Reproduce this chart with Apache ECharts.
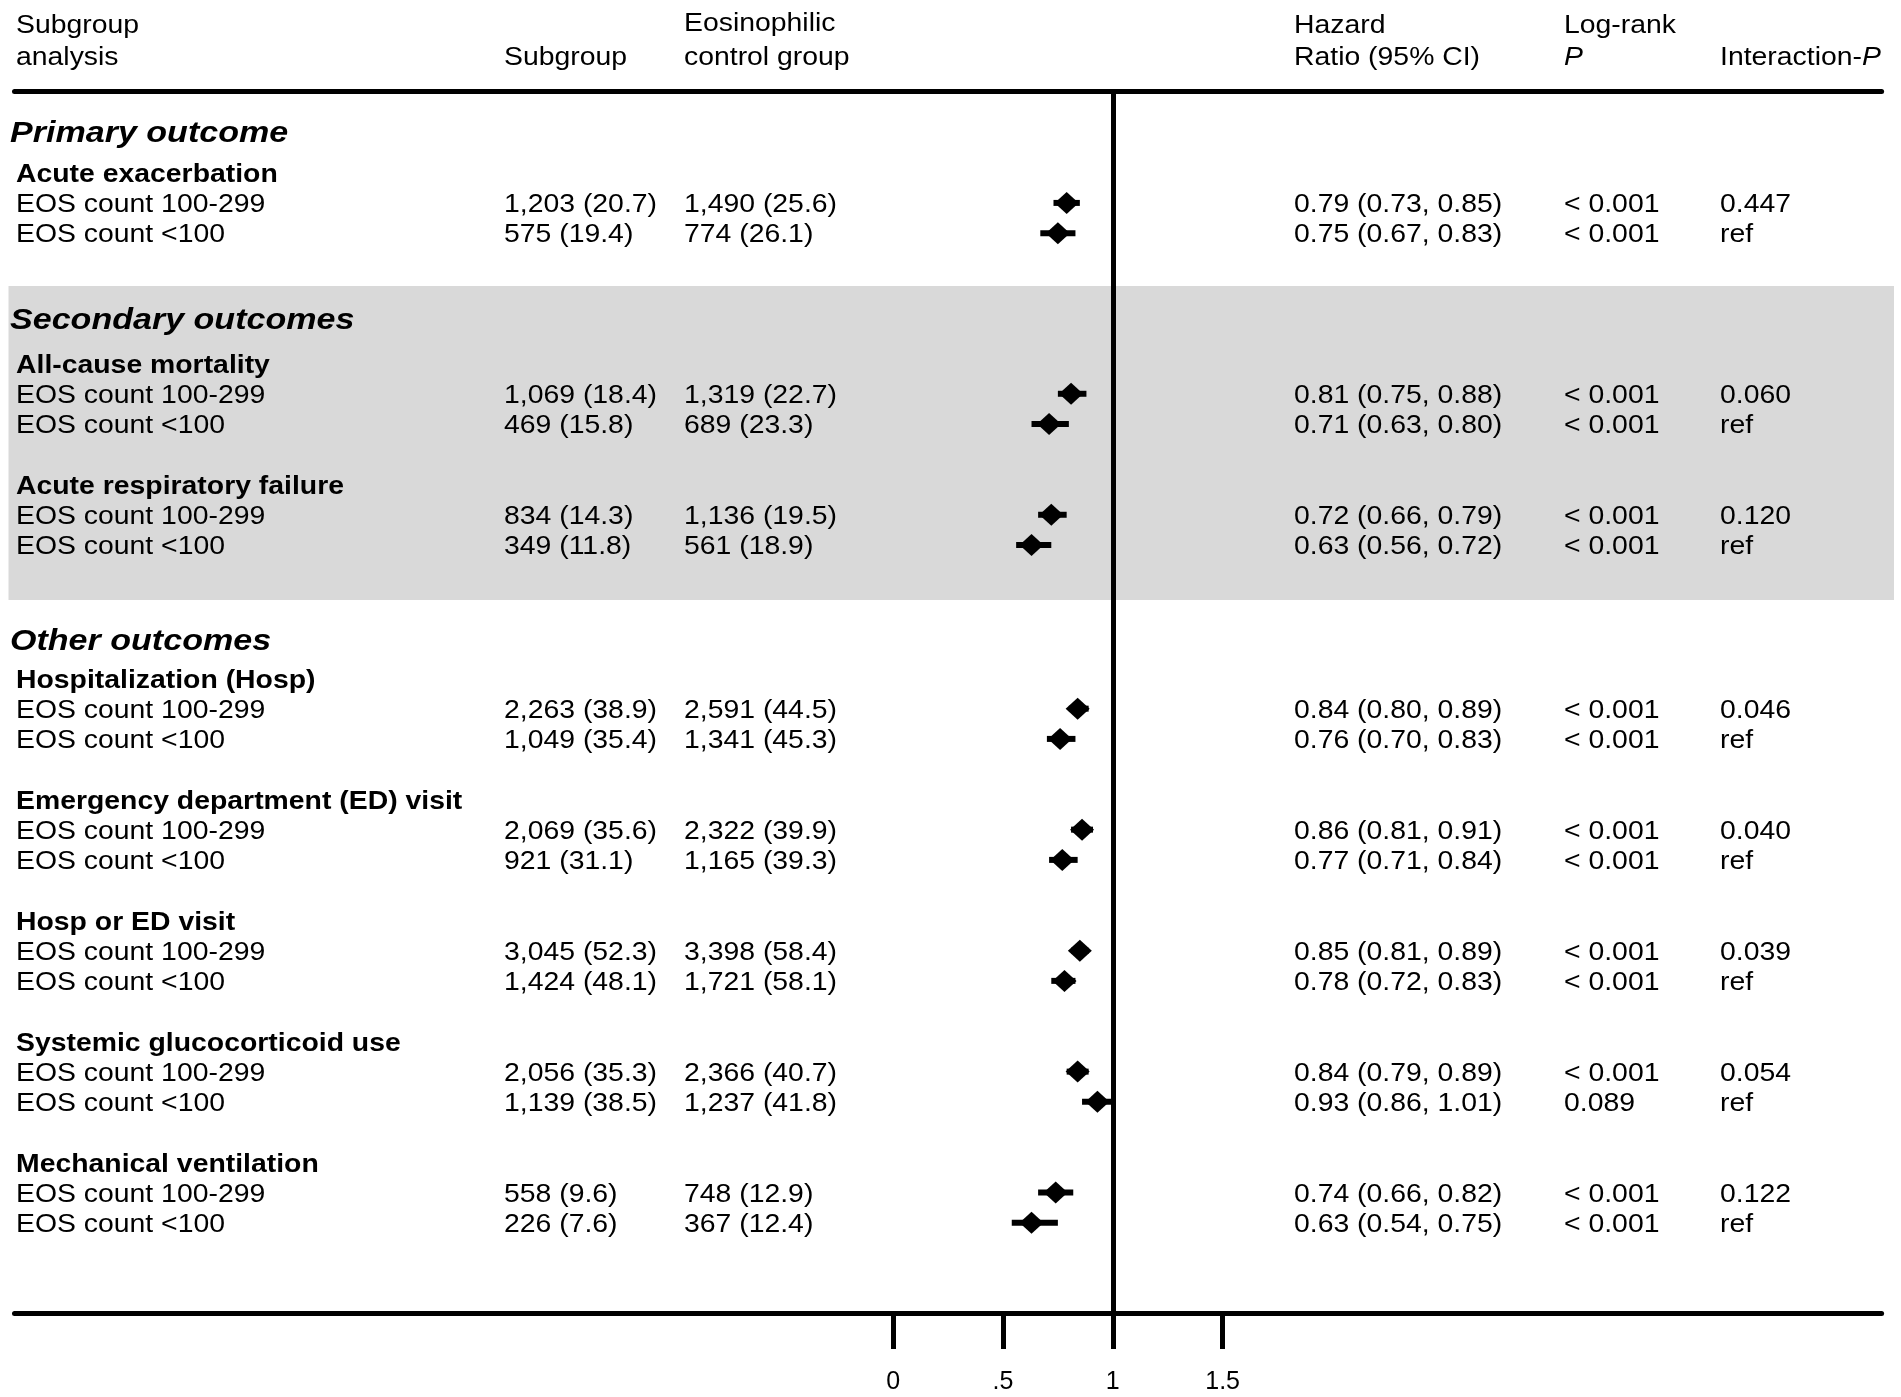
<!DOCTYPE html>
<html><head><meta charset="utf-8">
<script src="https://cdn.jsdelivr.net/npm/echarts@6/dist/echarts.min.js"></script>
<style>html,body{margin:0;padding:0;background:#fff}#c{width:1901px;height:1397px}</style>
</head><body><div id="c"></div><script>
// ---------------- DATA ----------------
const sectionTitles = ['Primary outcome', 'Secondary outcomes', 'Other outcomes'];
const sectionShaded = [false, true, false];
const outcomeNames = ['Acute exacerbation', 'All-cause mortality', 'Acute respiratory failure',
  'Hospitalization (Hosp)', 'Emergency department (ED) visit', 'Hosp or ED visit',
  'Systemic glucocorticoid use', 'Mechanical ventilation'];
const outcomeSection = [0, 1, 1, 2, 2, 2, 2, 2];
const subgroupLabels = ['EOS count 100-299', 'EOS count <100'];
// rows: outcome x subgroup, in order
const subgroupEvents = ['1,203 (20.7)', '575 (19.4)', '1,069 (18.4)', '469 (15.8)', '834 (14.3)', '349 (11.8)',
  '2,263 (38.9)', '1,049 (35.4)', '2,069 (35.6)', '921 (31.1)', '3,045 (52.3)', '1,424 (48.1)',
  '2,056 (35.3)', '1,139 (38.5)', '558 (9.6)', '226 (7.6)'];
const controlEvents = ['1,490 (25.6)', '774 (26.1)', '1,319 (22.7)', '689 (23.3)', '1,136 (19.5)', '561 (18.9)',
  '2,591 (44.5)', '1,341 (45.3)', '2,322 (39.9)', '1,165 (39.3)', '3,398 (58.4)', '1,721 (58.1)',
  '2,366 (40.7)', '1,237 (41.8)', '748 (12.9)', '367 (12.4)'];
const hazardRatio = [0.79, 0.75, 0.81, 0.71, 0.72, 0.63, 0.84, 0.76, 0.86, 0.77, 0.85, 0.78, 0.84, 0.93, 0.74, 0.63];
const ciLower = [0.73, 0.67, 0.75, 0.63, 0.66, 0.56, 0.80, 0.70, 0.81, 0.71, 0.81, 0.72, 0.79, 0.86, 0.66, 0.54];
const ciUpper = [0.85, 0.83, 0.88, 0.80, 0.79, 0.72, 0.89, 0.83, 0.91, 0.84, 0.89, 0.83, 0.89, 1.01, 0.82, 0.75];
const logRankP = ['< 0.001', '< 0.001', '< 0.001', '< 0.001', '< 0.001', '< 0.001', '< 0.001', '< 0.001',
  '< 0.001', '< 0.001', '< 0.001', '< 0.001', '< 0.001', '0.089', '< 0.001', '< 0.001'];
const interactionP = ['0.447', 'ref', '0.060', 'ref', '0.120', 'ref', '0.046', 'ref', '0.040', 'ref',
  '0.039', 'ref', '0.054', 'ref', '0.122', 'ref'];
const xTickValues = [0, 0.5, 1, 1.5];
const xTickLabels = ['0', '.5', '1', '1.5'];

// ---------------- LAYOUT / STYLE ----------------
const FAM = '"Liberation Sans", Arial, Helvetica, sans-serif';
const FONT_BODY = '25px ' + FAM;
const FONT_BOLD = 'bold 25px ' + FAM;
const FONT_ITAL = 'italic 25px ' + FAM;
const FONT_SECTION = 'italic bold 30px ' + FAM;
const SX = 1.135;      // horizontal stretch of the original typesetting
const TEXT_DY = 2.4;   // optical centring of text
const COL = { section: 10, label: 16, subgroup: 504, control: 684, hr: 1294, logrank: 1564, interaction: 1720 };
const L = { firstSection: 1.32, sectionToGroup: [1.38, 1.51, 1.29], groupToRow: 1, rowToRow: 1, rowToGroup: 2,
  rowToSection: 2.80, afterShaded: 0.32, bandAbove: 1.05, bandBelow: 1.82, yMax: 40.4 };

const textRows = [];
const rowY = [];
const bands = [];
let y = 0, prev = -1, lastRow = 0, bandStart = null;
function closeSection() {
  if (prev >= 0 && sectionShaded[prev]) bands.push([0, bandStart, lastRow + L.bandBelow]);
}
outcomeNames.forEach((name, o) => {
  const s = outcomeSection[o];
  if (s !== prev) {
    closeSection();
    y = prev < 0 ? L.firstSection : lastRow + L.rowToSection + (sectionShaded[prev] ? L.afterShaded : 0);
    textRows.push({ kind: 'section', y, text: sectionTitles[s] });
    if (sectionShaded[s]) bandStart = y - L.bandAbove;
    y += L.sectionToGroup[s];
    prev = s;
  } else {
    y = lastRow + L.rowToGroup;
  }
  textRows.push({ kind: 'group', y, text: name });
  subgroupLabels.forEach((lab, g) => {
    y += (g === 0 ? L.groupToRow : L.rowToRow);
    const i = o * subgroupLabels.length + g;
    textRows.push({ kind: 'row', y, i, label: lab });
    rowY[i] = y;
    lastRow = y;
  });
});
closeSection();

function txt(x, yy, text, font, extra) {
  return Object.assign({
    type: 'text', x: x, y: yy + TEXT_DY, scaleX: SX, silent: true,
    style: { text: text, font: font, fill: '#000', align: 'left', verticalAlign: 'middle',
      textAlign: 'left', textVerticalAlign: 'middle' }
  }, extra || {});
}
function hrText(i) {
  return hazardRatio[i].toFixed(2) + ' (' + ciLower[i].toFixed(2) + ', ' + ciUpper[i].toFixed(2) + ')';
}

const chart = echarts.init(document.getElementById('c'), null, { renderer: 'canvas' });
chart.setOption({
  animation: false,
  backgroundColor: '#fff',
  grid: { left: 14.5, right: 19.4, top: 91, bottom: 84, containLabel: false, outerBoundsMode: 'none' },
  xAxis: [{
    type: 'value', min: -4, max: 4.5, interval: 0.5, position: 'bottom',
    axisLine: { show: true, onZero: false, lineStyle: { color: '#000', width: 5 } },
    axisTick: { show: true, customValues: xTickValues, length: 36, lineStyle: { color: '#000', width: 5 } },
    axisLabel: { show: true, customValues: xTickValues, margin: 57, fontSize: 25, fontFamily: FAM, color: '#000',
      formatter: v => { const k = xTickValues.indexOf(v); return k >= 0 ? xTickLabels[k] : ''; } },
    splitLine: { show: false }
  }, {
    type: 'value', min: -4, max: 4.5, position: 'top',
    axisLine: { show: true, onZero: false, lineStyle: { color: '#000', width: 5 } },
    axisTick: { show: false }, axisLabel: { show: false }, splitLine: { show: false }
  }],
  yAxis: { type: 'value', inverse: true, min: 0, max: L.yMax, show: false },
  graphic: { elements: [
    txt(COL.label, 24, 'Subgroup', FONT_BODY),
    txt(COL.label, 56, 'analysis', FONT_BODY),
    txt(COL.subgroup, 56, 'Subgroup', FONT_BODY),
    txt(COL.control, 22, 'Eosinophilic', FONT_BODY),
    txt(COL.control, 56, 'control group', FONT_BODY),
    txt(COL.hr, 24, 'Hazard', FONT_BODY),
    txt(COL.hr, 56, 'Ratio (95% CI)', FONT_BODY),
    txt(COL.logrank, 24, 'Log-rank', FONT_BODY),
    txt(COL.logrank, 56, 'P', FONT_ITAL),
    {
      type: 'text', x: COL.interaction, y: 56 + TEXT_DY, scaleX: SX, silent: true,
      style: { text: '{a|Interaction-}{b|P}', font: FONT_BODY, fill: '#000', align: 'left', verticalAlign: 'middle',
        textAlign: 'left', textVerticalAlign: 'middle',
        rich: { a: { font: FONT_BODY, fill: '#000', color: '#000' }, b: { font: FONT_ITAL, fill: '#000', color: '#000' } } }
    }
  ] },
  series: [
    {
      type: 'custom', name: 'band', silent: true, z: 0,
      data: bands, encode: { x: 0, y: [1, 2] },
      renderItem: (params, api) => {
        const t = api.coord([0, api.value(1)])[1];
        const b = api.coord([0, api.value(2)])[1];
        return { type: 'rect', shape: { x: 8.5, y: t, width: 1894 - 8.5, height: b - t }, style: { fill: '#d9d9d9' } };
      }
    },
    {
      type: 'custom', name: 'ci', silent: true, z: 3,
      data: hazardRatio.map((h, i) => [ciLower[i], ciUpper[i], rowY[i]]),
      encode: { x: [0, 1], y: 2 },
      renderItem: (params, api) => {
        const a = api.coord([api.value(0), api.value(2)]);
        const b = api.coord([api.value(1), api.value(2)]);
        return { type: 'rect', shape: { x: a[0], y: a[1] - 3, width: b[0] - a[0], height: 6 }, style: { fill: '#000' } };
      }
    },
    {
      type: 'scatter', name: 'HR', silent: true, z: 4,
      data: hazardRatio.map((h, i) => [h, rowY[i]]),
      symbol: 'diamond', symbolSize: [24, 22], itemStyle: { color: '#000', opacity: 1 },
      markLine: { silent: true, symbol: ['none', 'none'], label: { show: false },
        lineStyle: { color: '#000', width: 5, type: 'solid' }, data: [{ xAxis: 1 }] }
    },
    {
      type: 'custom', name: 'table', silent: true, z: 5,
      data: textRows.map(r => [0, r.y]),
      encode: { x: 0, y: 1 },
      renderItem: (params, api) => {
        const r = textRows[params.dataIndex];
        const py = api.coord([0, api.value(1)])[1];
        if (r.kind === 'section') return txt(COL.section, py, r.text, FONT_SECTION);
        if (r.kind === 'group') return txt(COL.label, py, r.text, FONT_BOLD);
        const i = r.i;
        return { type: 'group', children: [
          txt(COL.label, py, r.label, FONT_BODY),
          txt(COL.subgroup, py, subgroupEvents[i], FONT_BODY),
          txt(COL.control, py, controlEvents[i], FONT_BODY),
          txt(COL.hr, py, hrText(i), FONT_BODY),
          txt(COL.logrank, py, logRankP[i], FONT_BODY),
          txt(COL.interaction, py, interactionP[i], FONT_BODY)
        ] };
      }
    }
  ]
});
</script></body></html>
